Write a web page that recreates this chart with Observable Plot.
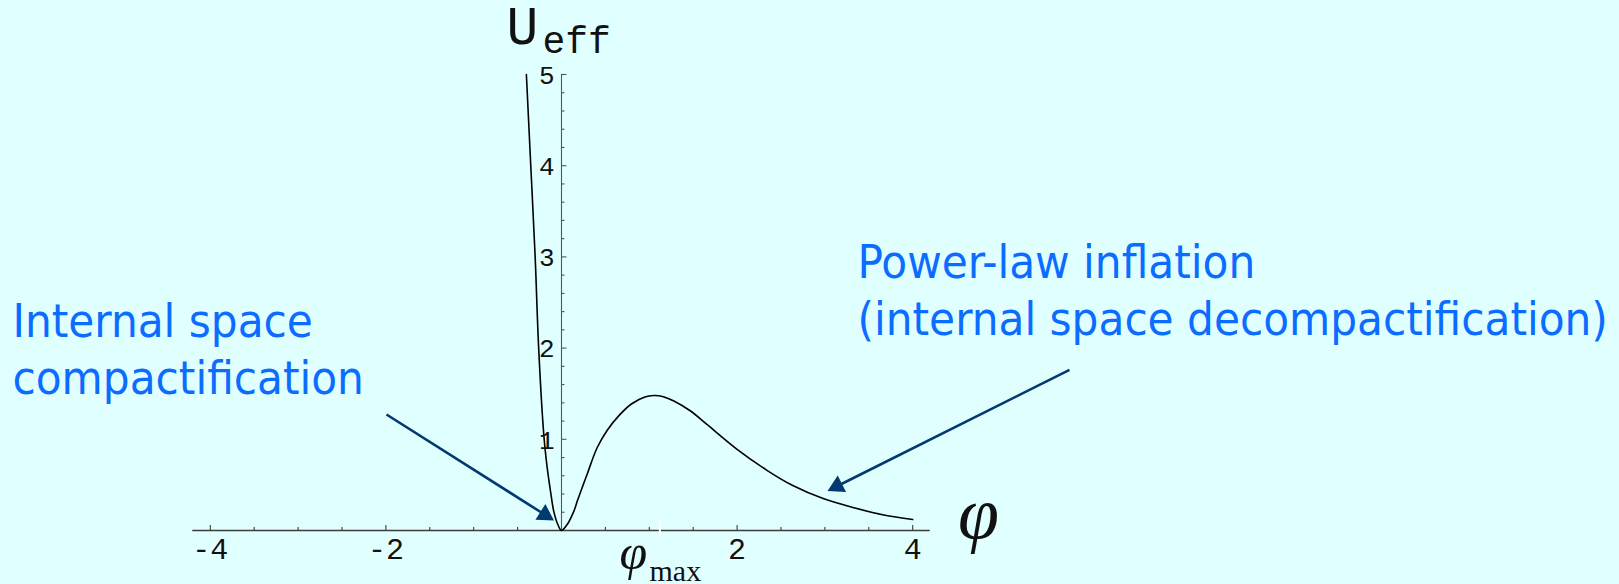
<!DOCTYPE html>
<html>
<head>
<meta charset="utf-8">
<script src="https://cdn.jsdelivr.net/npm/d3@7"></script>
<script src="https://cdn.jsdelivr.net/npm/@observablehq/plot@0.6"></script>
<style>
  html, body { margin: 0; padding: 0; background: #e0ffff; overflow: hidden; }
  #chart svg { display: block; }
</style>
</head>
<body>
<div id="chart"></div>
<script>
// ---------- data ----------
const phiLeft  = [-0.40, -0.35, -0.30, -0.26, -0.20, -0.163, -0.125, -0.088, -0.042, 0];
const ueffLeft = [ 5.00,  4.00,  3.00,  2.00,  1.03,  0.69,   0.43,   0.21,   0.066, 0];
const phiRight  = [0.065, 0.14, 0.179, 0.293, 0.407, 0.521, 0.654, 0.80, 0.95, 1.05, 1.15, 1.28, 1.47, 1.66, 2.00, 2.34, 2.64, 2.98, 3.33, 3.67, 4.00];
const ueffRight = [0.066, 0.21, 0.32,  0.62,  0.91,  1.10,  1.26,  1.39, 1.465, 1.48, 1.47, 1.42, 1.31, 1.16, 0.89, 0.66, 0.49, 0.35, 0.25, 0.17, 0.12];

const xTickLabels = [-4, -2, 2, 4];
const xMinorTicks = [-3.5, -3, -2.5, -1.5, -1, -0.5, 0.5, 1, 1.5, 2.5, 3, 3.5];
const yTickLabels = [1, 2, 3, 4, 5];
const yMinorTicks = [0.2, 0.4, 0.6, 0.8, 1.2, 1.4, 1.6, 1.8, 2.2, 2.4, 2.6, 2.8, 3.2, 3.4, 3.6, 3.8, 4.2, 4.4, 4.6, 4.8];
const phiMax = 1.12;
const xAxisExtent = [-4.2, 4.2];
const yAxisExtent = [0, 5];

const leftText  = "Internal space\ncompactification";
const rightText = "Power-law inflation\n(internal space decompactification)";

// ---------- layout ----------
const W = 1619, H = 584;
const X0 = 561, XU = 87.8;   // pixel of phi = 0, pixels per unit
const Y0 = 530, YU = 91.2;   // pixel of U = 0, pixels per unit
const px2x = p => (p - X0) / XU;
const px2y = p => (Y0 - p) / YU;

const curve = [
  ...phiLeft.map((p, i) => ({phi: p, u: ueffLeft[i]})),
  ...phiRight.map((p, i) => ({phi: p, u: ueffRight[i]}))
];

// arrows (start -> tip), in data coordinates
const arrows = [
  {x1: px2x(386),  y1: px2y(414),   x2: px2x(553.5), y2: px2y(520)},
  {x1: px2x(1069), y1: px2y(369.3), x2: px2x(827),   y2: px2y(490.5)}
];
const headR = 6.9;
const headY = headR * Math.sqrt(Math.PI / (3 * Math.sqrt(3))); // centroid->base distance
arrows.forEach(a => {
  const sx = (a.x2 - a.x1) * XU, sy = -(a.y2 - a.y1) * YU;
  const L = Math.hypot(sx, sy), ux = sx / L, uy = sy / L;
  a.cx = a.x2 - 2 * headY * ux / XU;
  a.cy = a.y2 + 2 * headY * uy / YU;
  a.bx = a.x2 - 2.7 * headY * ux / XU;
  a.by = a.y2 + 2.7 * headY * uy / YU;
  a.rot = Math.atan2(uy, ux) * 180 / Math.PI + 90;
});

const axisColor = "#3c3c3c";
const mono = "'Liberation Mono', 'DejaVu Sans Mono', monospace";
const serif = "'Liberation Serif', 'DejaVu Serif', serif";
const sans = "'DejaVu Sans Condensed', 'DejaVu Sans', sans-serif";
const blue = "#0b6cff";
const navy = "#003a70";

const chart = Plot.plot({
  width: W, height: H,
  marginLeft: 0, marginRight: 0, marginTop: 0, marginBottom: 0,
  x: {domain: [px2x(0), px2x(W)], axis: null},
  y: {domain: [px2y(H), px2y(0)], axis: null},
  style: {background: "transparent", overflow: "visible"},
  marks: [
    // axes
    Plot.ruleY([0], {x1: xAxisExtent[0], x2: xAxisExtent[1], stroke: axisColor, strokeWidth: 1.3}),
    Plot.ruleX([0], {y1: yAxisExtent[0], y2: yAxisExtent[1], stroke: "#555", strokeWidth: 1.1}),
    // x ticks (upward)
    Plot.ruleX(xTickLabels, {x: d => d, y1: 0, y2: 5 / YU, stroke: axisColor, strokeWidth: 1.1}),
    Plot.ruleX(xMinorTicks, {x: d => d, y1: 0, y2: 3 / YU, stroke: axisColor, strokeWidth: 1.1}),
    // y ticks (rightward)
    Plot.ruleY(yTickLabels, {y: d => d, x1: 0, x2: 5.5 / XU, stroke: "#555", strokeWidth: 1.1}),
    Plot.ruleY(yMinorTicks, {y: d => d, x1: 0, x2: 3.5 / XU, stroke: "#555", strokeWidth: 1.1}),
    // phi_max marker
    Plot.ruleX([phiMax], {x: d => d, y1: px2y(536.5), y2: px2y(519.5), stroke: "white", strokeWidth: 2}),
    // curve
    Plot.line(curve, {x: "phi", y: "u", stroke: "black", strokeWidth: 1.6, curve: "catmull-rom"}),
    // tick labels
    Plot.text(xTickLabels, {x: d => d, y: 0, text: d => String(d), dy: 19, fontFamily: mono, fontSize: 30, fill: "#111"}),
    Plot.text(yTickLabels, {x: 0, y: d => d, text: d => String(d), dx: -7, dy: 1, textAnchor: "end", fontFamily: mono, fontSize: 26, fill: "#111"}),
    // axis titles
    Plot.text(["U"], {x: px2x(506), y: px2y(43.5), text: d => d, textAnchor: "start", lineAnchor: "bottom", fontFamily: mono, fontSize: 53, fill: "#111"}),
    Plot.text(["eff"], {x: px2x(542), y: px2y(52), text: d => d, textAnchor: "start", lineAnchor: "bottom", fontFamily: mono, fontSize: 38, fill: "#111"}),
    Plot.text(["φ"], {x: px2x(978), y: px2y(537), text: d => d, textAnchor: "middle", lineAnchor: "bottom", fontFamily: serif, fontStyle: "italic", fontSize: 74, fill: "#111"}),
    Plot.text(["φ"], {x: px2x(619), y: px2y(568), text: d => d, textAnchor: "start", lineAnchor: "bottom", fontFamily: serif, fontStyle: "italic", fontSize: 50, fill: "#111"}),
    Plot.text(["max"], {x: px2x(649), y: px2y(580), text: d => d, textAnchor: "start", lineAnchor: "bottom", fontFamily: serif, fontSize: 30, fill: "#111"}),
    // arrows
    Plot.link(arrows, {x1: "x1", y1: "y1", x2: "bx", y2: "by", stroke: navy, strokeWidth: 2.6}),
    Plot.dot(arrows, {x: "cx", y: "cy", rotate: "rot", symbol: "triangle", r: headR, fill: navy}),
    // annotations
    Plot.text([leftText], {x: px2x(12), y: px2y(393.5), text: d => d, textAnchor: "start", lineAnchor: "bottom", lineHeight: 1.21, fontFamily: sans, fontSize: 47, fill: blue}),
    Plot.text([rightText], {x: px2x(857), y: px2y(334.5), text: d => d, textAnchor: "start", lineAnchor: "bottom", lineHeight: 1.21, fontFamily: sans, fontSize: 47, fill: blue})
  ]
});
document.getElementById("chart").appendChild(chart);
</script>
</body>
</html>
